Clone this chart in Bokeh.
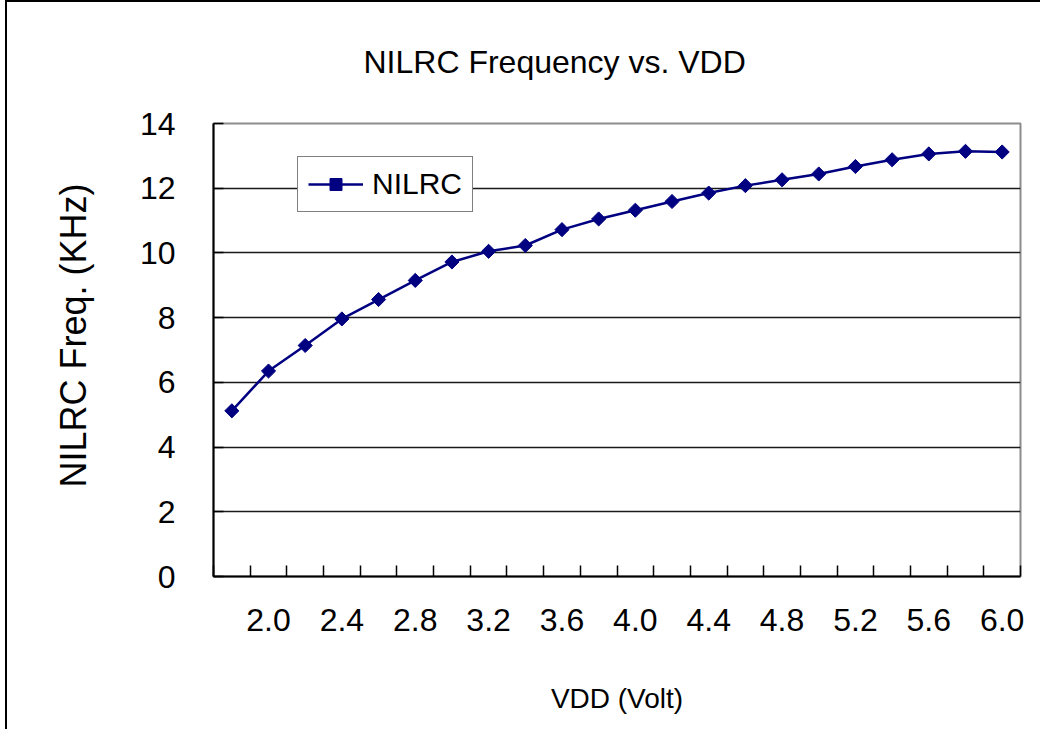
from bokeh.plotting import figure
from bokeh.models import Range1d, FixedTicker, PrintfTickFormatter, Legend, LegendItem, Title
from bokeh.embed import file_html
from bokeh.resources import INLINE

# ---- data ----
vdd = [1.8, 2.0, 2.2, 2.4, 2.6, 2.8, 3.0, 3.2, 3.4, 3.6, 3.8,
       4.0, 4.2, 4.4, 4.6, 4.8, 5.0, 5.2, 5.4, 5.6, 5.8, 6.0]
freq = [5.12, 6.35, 7.14, 7.96, 8.56, 9.15, 9.72, 10.05, 10.23, 10.72, 11.05,
        11.32, 11.59, 11.85, 12.08, 12.26, 12.44, 12.67, 12.88, 13.06, 13.14, 13.12]
x_label_ticks = [2.0, 2.4, 2.8, 3.2, 3.6, 4.0, 4.4, 4.8, 5.2, 5.6, 6.0]
x_bound_ticks = [1.7, 1.9, 2.1, 2.3, 2.5, 2.7, 2.9, 3.1, 3.3, 3.5, 3.7, 3.9,
                 4.1, 4.3, 4.5, 4.7, 4.9, 5.1, 5.3, 5.5, 5.7, 5.9, 6.1]
y_ticks = [0, 2, 4, 6, 8, 10, 12, 14]
title_text = "NILRC Frequency vs. VDD"
x_title = "VDD (Volt)"
y_title = "NILRC Freq. (KHz)"
series_name = "NILRC"

FONT = "Liberation Sans"
NAVY = "#000080"

p = figure(width=1035, height=729, output_backend="svg", toolbar_location=None,
           x_range=Range1d(1.7, 6.1), y_range=Range1d(0, 14),
           min_border_left=206, min_border_top=120, min_border_right=22,
           min_border_bottom=155)
p.styles = {"border-left": "2px solid black", "border-top": "2px solid black",
            "margin-left": "5px"}
p.background_fill_color = "white"
p.border_fill_color = "white"
p.outline_line_color = "#8c8c8c"
p.outline_line_width = 2

# title (top)
p.title.text = title_text
p.title.align = "left"
p.title.vertical_align = "top"
p.title.offset = 150
p.title.standoff = 83
p.title.text_font = FONT
p.title.text_font_size = "32px"
p.title.text_font_style = "normal"
p.title.text_color = "black"

# y axis title as a left-side title
ytitle = Title(text=y_title, align="left", offset=89, standoff=86,
               text_font=FONT, text_font_size="36px", text_font_style="normal",
               text_color="black")
p.add_layout(ytitle, "left")

# x axis
xa = p.xaxis[0]
xa.ticker = FixedTicker(ticks=x_label_ticks, minor_ticks=x_bound_ticks)
xa.formatter = PrintfTickFormatter(format="%.1f")
xa.major_tick_in = 0
xa.major_tick_out = 0
xa.minor_tick_in = 11
xa.minor_tick_out = 0
xa.minor_tick_line_color = "black"
xa.minor_tick_line_width = 1.5
xa.axis_line_color = "black"
xa.axis_line_width = 2
xa.major_label_text_font = FONT
xa.major_label_text_font_size = "32px"
xa.major_label_text_color = "black"
xa.major_label_standoff = 32
xa.axis_label = x_title
xa.axis_label_text_font = FONT
xa.axis_label_text_font_size = "28px"
xa.axis_label_text_font_style = "normal"
xa.axis_label_text_color = "black"
xa.axis_label_standoff = 49

# y axis
ya = p.yaxis[0]
ya.ticker = FixedTicker(ticks=y_ticks)
ya.major_tick_in = 10
ya.major_tick_out = 0
ya.minor_tick_line_color = None
ya.major_tick_line_color = "black"
ya.major_tick_line_width = 1.5
ya.axis_line_color = "black"
ya.axis_line_width = 2
ya.major_label_text_font = FONT
ya.major_label_text_font_size = "32px"
ya.major_label_text_color = "black"
ya.major_label_standoff = 38

p.xgrid.visible = False
p.ygrid.ticker = FixedTicker(ticks=y_ticks)
p.ygrid.grid_line_color = "#1a1a1a"
p.ygrid.grid_line_width = 1.5

ln = p.line(vdd, freq, line_color=NAVY, line_width=2.5)
sc = p.scatter(vdd, freq, marker="square", angle=45, angle_units="deg", size=10,
               fill_color=NAVY, line_color=NAVY)

legend = Legend(items=[LegendItem(label=series_name, renderers=[ln, sc])],
                location=(84, 364), margin=0, padding=10, spacing=0,
                glyph_width=55, glyph_height=30, label_standoff=9,
                label_text_font=FONT, label_text_font_size="30px",
                label_text_color="black",
                border_line_color="black", border_line_width=1.5,
                background_fill_color="white", background_fill_alpha=1.0)
p.add_layout(legend)

open("out.html", "w").write(file_html(p, INLINE))
